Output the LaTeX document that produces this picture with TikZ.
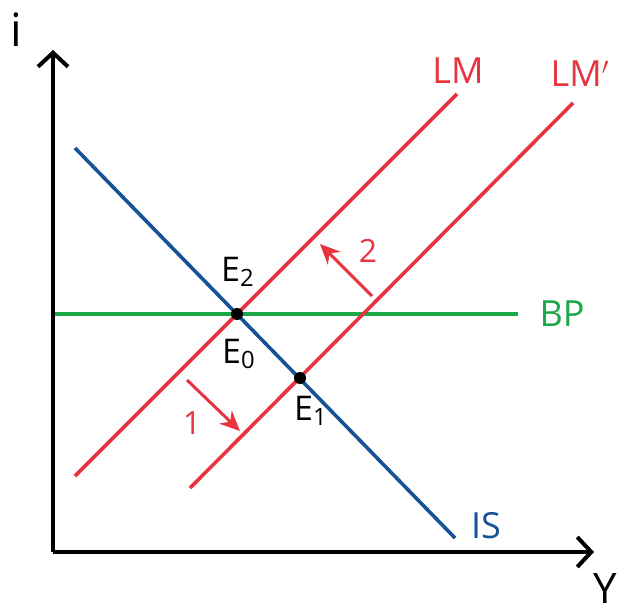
\documentclass[tikz,border=0pt]{standalone}
\usepackage{fontspec}
\setmainfont{Open Sans}
\usetikzlibrary{arrows.meta}
\definecolor{lmred}{RGB}{232,52,62}
\definecolor{isblue}{RGB}{22,82,150}
\definecolor{bpgreen}{RGB}{26,168,72}
\tikzset{
  axis/.style={line width=2pt,-{Straight Barb[length=7pt,width=15pt,line width=2pt]}},
  curve/.style={line width=1.8pt},
  shiftarrow/.style={lmred,line width=1.5pt,-{Stealth[length=10pt,width=9pt]}},
  lbl/.style={font=\fontsize{18}{20}\selectfont,inner sep=0pt},
  elbl/.style={font=\fontsize{17}{19}\selectfont,inner sep=0pt},
  num/.style={font=\fontsize{16}{18}\selectfont,inner sep=0pt,lmred},
  dot/.style={circle,fill=black,inner sep=0pt,minimum size=6pt}
}
\begin{document}
\begin{tikzpicture}[x=0.5pt,y=-0.5pt]
\useasboundingbox (0,0) rectangle (625,614);
% axes
\coordinate (O) at (53,552);
\coordinate (ytop) at (53,50);
\coordinate (xend) at (594,552);
\draw[axis] (O) -- (ytop);
\draw[axis] (O) -- (xend);
\node[font=\fontsize{23}{25}\selectfont,inner sep=0pt] (ilab) at (16,30) {i};
\node[font=\fontsize{21}{23}\selectfont,inner sep=0pt,anchor=south east] (Ylab) at (617,604) {Y};
% curves
\coordinate (bpL) at (55,314);
\coordinate (bpR) at (518,314);
\coordinate (isA) at (75,148);
\coordinate (isB) at (455,538);
\coordinate (lmA) at (75,476);
\coordinate (lmB) at (457,94);
\coordinate (lmpA) at (190,488);
\coordinate (lmpB) at (573,103);
\draw[curve,bpgreen] (bpL) -- (bpR);
\draw[curve,lmred] (lmA) -- (lmB);
\draw[curve,lmred] (lmpA) -- (lmpB);
\draw[curve,isblue] (isA) -- (isB);
% labels
\node[lbl,lmred] (LM) at (458,71) {LM};
\node[lbl,lmred] (LMp) at (580,74) {LM$'$};
\node[lbl,bpgreen] (BP) at (562,314) {BP};
\node[lbl,isblue] (IS) at (486,526) {IS};
% equilibria
\node[dot] (E0) at (237,314) {};
\node[dot] (E1) at (300,378) {};
\node[elbl] (E2l) at (238,272) {E\textsubscript{2}};
\node[elbl] (E0l) at (239,354) {E\textsubscript{0}};
\node[elbl] (E1l) at (311,411) {E\textsubscript{1}};
% shift arrows
\coordinate (a1s) at (187,380);
\coordinate (a1e) at (240,431);
\coordinate (a2s) at (372,296);
\coordinate (a2e) at (320,244);
\draw[shiftarrow] (a1s) -- (a1e);
\draw[shiftarrow] (a2s) -- (a2e);
\node[num] (n1) at (192,423) {1};
\node[num] (n2) at (368,251) {2};
\end{tikzpicture}
\end{document}
